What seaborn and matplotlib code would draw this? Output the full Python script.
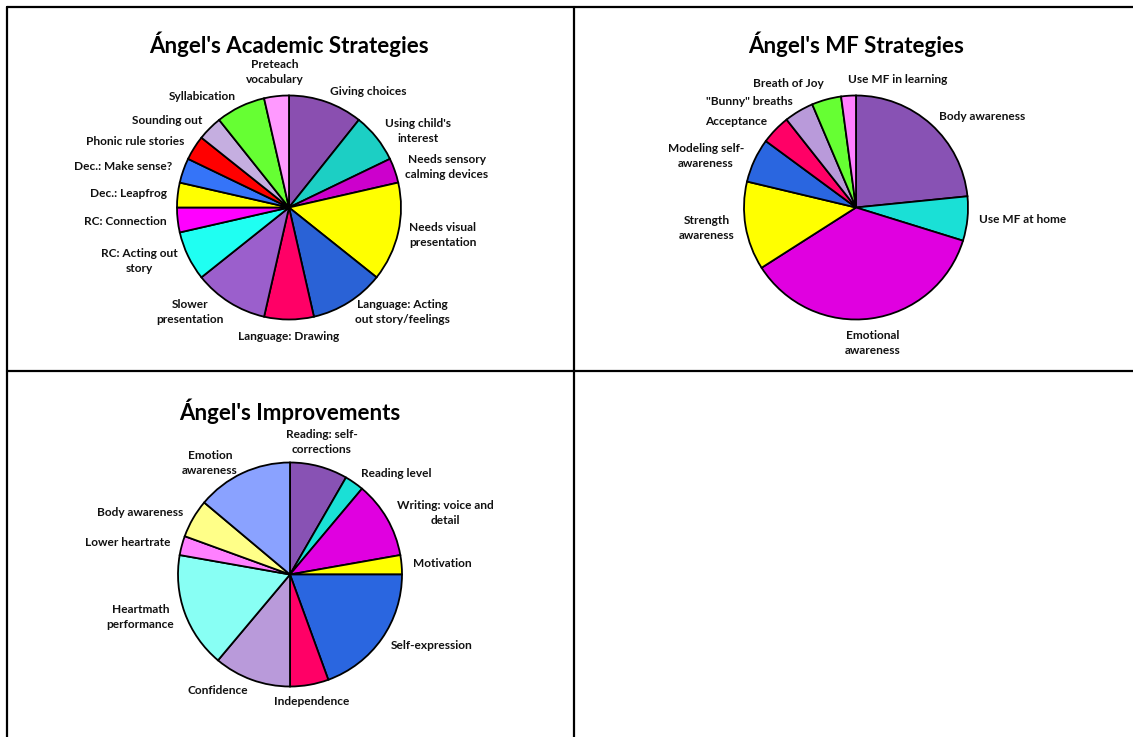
import matplotlib.pyplot as plt
import seaborn as sns
from matplotlib.lines import Line2D

# --- data (counts) ---
academic_labels = ["Giving choices", "Using child's\ninterest", "Needs sensory\ncalming devices",
                   "Needs visual\npresentation", "Language: Acting\nout story/feelings",
                   "Language: Drawing", "Slower\npresentation", "RC: Acting out\nstory",
                   "RC: Connection", "Dec.: Leapfrog", "Dec.: Make sense?", "Phonic rule stories",
                   "Sounding out", "Syllabication", "Preteach\nvocabulary"]
academic_counts = [3, 2, 1, 4, 3, 2, 3, 2, 1, 1, 1, 1, 1, 2, 1]
academic_colors = ["#8a4fb0", "#1ccfc4", "#cc00cc", "#ffff00", "#2a62d6", "#ff0066", "#9b5fcc",
                   "#1ffff2", "#ff00ff", "#ffff00", "#3574f8", "#ff0000", "#c5aee0", "#66ff33",
                   "#ff99ff"]

mf_labels = ["Body awareness", "Use MF at home", "Emotional\nawareness", "Strength\nawareness",
             "Modeling self-\nawareness", "Acceptance", "\"Bunny\" breaths", "Breath of Joy",
             "Use MF in learning"]
mf_counts = [11, 3, 17, 6, 3, 2, 2, 2, 1]
mf_colors = ["#8852b4", "#1ae0d6", "#e000e0", "#ffff00", "#2a66e0", "#ff0066", "#b99ada",
             "#66ff33", "#ff80ff"]

impr_labels = ["Reading: self-\ncorrections", "Reading level", "Writing: voice and\ndetail",
               "Motivation", "Self-expression", "Independence", "Confidence",
               "Heartmath\nperformance", "Lower heartrate", "Body awareness",
               "Emotion\nawareness"]
impr_counts = [3, 1, 4, 1, 7, 2, 4, 6, 1, 2, 5]
impr_colors = ["#8852b4", "#1ae0d6", "#e000e0", "#ffff00", "#2a66e0", "#ff0066", "#b99ada",
               "#88fff4", "#ff80ff", "#ffff88", "#8aa2ff"]

sns.set_style("white")
plt.rcParams['font.family'] = ['Lato', 'DejaVu Sans']

W, H = 1133, 737
R = 112  # pie radius in pixels
fig = plt.figure(figsize=(W / 100, H / 100), dpi=100)


def draw_pie(cx, cy, title, labels, counts, colors, align=None):
    side = 300
    lim = side / 2 / R
    ax = fig.add_axes([(cx - side / 2) / W, 1 - (cy + side / 2) / H, side / W, side / H])
    wedges, texts = ax.pie(counts, labels=labels, colors=colors, startangle=90,
                           counterclock=False, labeldistance=1.1,
                           wedgeprops=dict(edgecolor="black", linewidth=1.3),
                           textprops=dict(fontsize=8.6, fontweight="bold", linespacing=1.45,
                                          multialignment="center", color="#111111"))
    for t in texts:
        x, y = t.get_position()
        if abs(x) < 0.3:
            t.set_ha("center")
            t.set_va("bottom" if y > 0 else "top")
        if align and t.get_text() in align:
            t.set_ha(align[t.get_text()])
    ax.set_xlim(-lim, lim)
    ax.set_ylim(-lim, lim)
    ax.axis("off")
    ax.text(0, 1.46, title, ha="center", va="center", fontsize=16,
            fontweight="bold", color="black")


draw_pie(289, 207.5, "Ángel's Academic Strategies", academic_labels, academic_counts, academic_colors)
draw_pie(856, 207.5, "Ángel's MF Strategies", mf_labels, mf_counts, mf_colors,
         align={"Breath of Joy": "right", "Use MF in learning": "left"})
draw_pie(290, 574.5, "Ángel's Improvements", impr_labels, impr_counts, impr_colors)

# table-like cell borders
def px_line(x0, y0, x1, y1):
    fig.add_artist(Line2D([x0 / W, x1 / W], [1 - y0 / H, 1 - y1 / H], color="black", lw=1.6))

px_line(7, 7, 1133, 7)
px_line(7, 371, 1133, 371)
px_line(7, 7, 7, 737)
px_line(574, 7, 574, 737)

fig.savefig("out.png", dpi=100)
